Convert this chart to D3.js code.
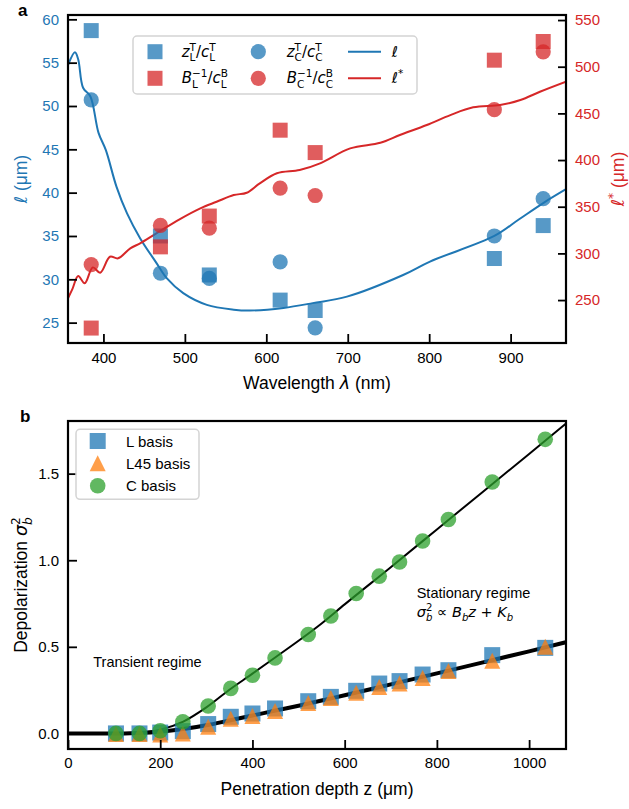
<html>
<head>
<meta charset="utf8">
<title> scattering lengths and depolarization </title>
<style>
body { margin:0; background-color:white; }
text { white-space: pre; }
</style>
<script src="https://d3js.org/d3.v7.min.js"></script>
</head>
<body>
<div id="svg"></div>
<script>

var width = 629;
var height = 809;
var sans = "Liberation Sans, Arial, sans-serif";
var mathFont = "DejaVu Sans, sans-serif";
var blue = "#1f77b4", red = "#d62728", green = "#2ca02c", orange = "#ff7f0e";
var sp = "\u00a0"; // non-breaking space so svg keeps it

// ---- panel a data ----
var wavelengths = [385, 470, 530, 617, 660, 880, 940];
var zL = [58.7, 35.0, 30.5, 27.6, 26.4, 32.4, 36.2];   // z_L^T / c_L^T (left axis)
var zC = [50.7, 30.7, 30.1, 32.0, 24.4, 35.0, 39.3];   // z_C^T / c_C^T (left axis)
var BL = [220, 307, 340, 432, 408, 507, 527];          // B_L^-1 / c_L^B (right axis)
var BC = [288, 330, 327, 370, 362, 454, 516];          // B_C^-1 / c_C^B (right axis)

var ellLambda = [356.5, 365, 369, 375, 384, 394, 403, 416, 429, 445, 465, 478, 498, 527, 560, 580, 621, 657, 699, 768, 801, 880, 910, 940, 968];
var ellValues = [54.7, 56.2, 55.4, 52.1, 51.1, 46.9, 44.9, 40.7, 37.6, 34.75, 31.9, 30.1, 28.4, 27.05, 26.5, 26.4, 26.7, 27.25, 28.0, 30.5, 32.05, 35.0, 36.9, 38.8, 40.4];

var starLambda = [356.5, 362, 369, 377, 387, 396, 408, 418, 433, 445, 465, 494, 519, 539, 560, 576, 592, 613, 641, 666, 703, 740, 764, 797, 826, 854, 887, 912, 936, 968];
var starValues = [252, 262, 275.7, 267.9, 285, 279.3, 296.4, 294.7, 305.4, 310.8, 321.5, 336.8, 348.3, 355.3, 362.5, 365, 375, 385.8, 389.3, 396.5, 412.5, 418.5, 426.8, 437.5, 448.2, 456.5, 459, 464.3, 473.2, 484];

var ticksLeft = [25, 30, 35, 40, 45, 50, 55, 60];
var ticksRight = [250, 300, 350, 400, 450, 500, 550];
var ticksLambda = [400, 500, 600, 700, 800, 900];

// ---- panel b data ----
var depth = [104, 155, 200, 249, 304, 353, 400, 449, 521, 570, 625, 675, 719, 769, 825, 920, 1035];
var sigmaL = [0.0, 0.0, 0.005, 0.013, 0.054, 0.096, 0.115, 0.144, 0.186, 0.211, 0.246, 0.288, 0.302, 0.34, 0.365, 0.452, 0.494];
var sigmaL45 = [-0.003, -0.003, -0.006, 0.0, 0.038, 0.085, 0.1, 0.13, 0.175, 0.205, 0.235, 0.268, 0.288, 0.32, 0.36, 0.42, 0.5];
var sigmaC = [0.0, 0.0, 0.015, 0.067, 0.158, 0.26, 0.336, 0.436, 0.571, 0.678, 0.808, 0.908, 0.99, 1.111, 1.235, 1.452, 1.698];

var fitZ = [0, 50, 100, 150, 200, 250, 300, 350, 400, 450, 500, 550, 600, 700, 800, 900, 1000, 1080];
var fitC = [0, 0, 0, 0.004, 0.022, 0.068, 0.15, 0.252, 0.345, 0.44, 0.535, 0.635, 0.745, 0.96, 1.178, 1.396, 1.614, 1.789];
var fitL = [0, 0, 0, 0.003, 0.01, 0.025, 0.047, 0.075, 0.103, 0.132, 0.16, 0.19, 0.22, 0.283, 0.347, 0.41, 0.474, 0.527];

var ticksSigma = [0.0, 0.5, 1.0, 1.5];
var ticksDepth = [0, 200, 400, 600, 800, 1000];

var canvas = d3.select("#svg").append("svg")
    .attr("width", width).attr("height", height)
    .style("font-family", sans);

// writes a small math expression: base glyphs with optional sub / superscripts
function mathText(g, x, y, parts, size, color) {
  var cx = x;
  parts.forEach(function(p) {
    var t = g.append("text").attr("x", cx).attr("y", y)
        .attr("font-size", size).attr("fill", color)
        .attr("font-family", p.plain ? sans : mathFont)
        .attr("font-style", p.it ? "italic" : "normal")
        .text(p.t);
    cx += t.node().getComputedTextLength();
    var w = 0;
    if (p.sup) {
      var s = g.append("text").attr("x", cx).attr("y", y - size * 0.4)
          .attr("font-size", size * 0.7).attr("fill", color)
          .attr("font-family", mathFont).attr("font-style", p.supIt ? "italic" : "normal")
          .text(p.sup);
      w = Math.max(w, s.node().getComputedTextLength());
    }
    if (p.sub) {
      var b = g.append("text").attr("x", cx).attr("y", y + size * 0.28)
          .attr("font-size", size * 0.7).attr("fill", color)
          .attr("font-family", mathFont).attr("font-style", p.subIt ? "italic" : "normal")
          .text(p.sub);
      w = Math.max(w, b.node().getComputedTextLength());
    }
    cx += w;
  });
  return cx - x;
}

// rotated label centred on (cx, cy), baseline vertical
function rotatedLabel(cx, cy, parts, size, color) {
  var g = canvas.append("g");
  var w = mathText(g, 0, 0, parts, size, color);
  g.attr("transform", "translate(" + cx + "," + cy + ") rotate(-90) translate(" + (-w / 2) + ",0)");
}

function centredLabel(cx, y, parts, size, color) {
  var g = canvas.append("g");
  var w = mathText(g, 0, 0, parts, size, color);
  g.attr("transform", "translate(" + (cx - w / 2) + "," + y + ")");
}

function styleAxis(g, color) {
  g.select(".domain").remove();
  g.selectAll(".tick line").attr("stroke", "black").attr("stroke-width", 1.8);
  g.selectAll(".tick text").attr("font-size", 15).attr("font-family", sans).attr("fill", color);
}

function square(g, x, y, s, color) {
  g.append("rect").attr("x", x - s / 2).attr("y", y - s / 2).attr("width", s).attr("height", s)
    .attr("fill", color).attr("fill-opacity", 0.75);
}
function circle(g, x, y, r, color) {
  g.append("circle").attr("cx", x).attr("cy", y).attr("r", r)
    .attr("fill", color).attr("fill-opacity", 0.75);
}
function triangle(g, x, y, s, color) {
  var h = s / 2;
  g.append("path").attr("d", "M" + x + "," + (y - h) + "L" + (x + h) + "," + (y + h) + "L" + (x - h) + "," + (y + h) + "Z")
    .attr("fill", color).attr("fill-opacity", 0.75);
}

// ================= panel a =================
var ax = { l: 68, r: 566, t: 15, b: 343 };
var xA = d3.scaleLinear().domain([356.5, 968]).range([ax.l, ax.r]);
var yL = d3.scaleLinear().domain([22.65, 60.5]).range([ax.b, ax.t]);
var yR = d3.scaleLinear().domain([204, 555.4]).range([ax.b, ax.t]);

canvas.append("clipPath").attr("id", "clipA").append("rect")
    .attr("x", ax.l).attr("y", ax.t).attr("width", ax.r - ax.l).attr("height", ax.b - ax.t);

var pa = canvas.append("g").attr("clip-path", "url(#clipA)");

var lineEll = d3.line().curve(d3.curveCatmullRom)
    .x(function(d, i) { return xA(ellLambda[i]); })
    .y(function(d) { return yL(d); });
var lineStar = d3.line().curve(d3.curveCatmullRom)
    .x(function(d, i) { return xA(starLambda[i]); })
    .y(function(d) { return yR(d); });

pa.append("path").attr("d", lineEll(ellValues)).attr("fill", "none").attr("stroke", blue).attr("stroke-width", 2);
pa.append("path").attr("d", lineStar(starValues)).attr("fill", "none").attr("stroke", red).attr("stroke-width", 2);

for (var i = 0; i < wavelengths.length; i++) square(pa, xA(wavelengths[i]), yL(zL[i]), 15, blue);
for (var i = 0; i < wavelengths.length; i++) circle(pa, xA(wavelengths[i]), yL(zC[i]), 7.6, blue);
for (var i = 0; i < wavelengths.length; i++) square(pa, xA(wavelengths[i]), yR(BL[i]), 15, red);
for (var i = 0; i < wavelengths.length; i++) circle(pa, xA(wavelengths[i]), yR(BC[i]), 7.6, red);

// axes (ticks point inwards)
var gxa = canvas.append("g").attr("transform", "translate(0," + ax.b + ")")
    .call(d3.axisBottom(xA).tickValues(ticksLambda).tickSize(-9).tickPadding(9.5));
styleAxis(gxa, "black");
var gyl = canvas.append("g").attr("transform", "translate(" + ax.l + ",0)")
    .call(d3.axisLeft(yL).tickValues(ticksLeft).tickSize(-9).tickPadding(9));
styleAxis(gyl, blue);
var gyr = canvas.append("g").attr("transform", "translate(" + ax.r + ",0)")
    .call(d3.axisRight(yR).tickValues(ticksRight).tickSize(-8).tickPadding(9));
styleAxis(gyr, red);

canvas.append("rect").attr("x", ax.l).attr("y", ax.t).attr("width", ax.r - ax.l).attr("height", ax.b - ax.t)
    .attr("fill", "none").attr("stroke", "black").attr("stroke-width", 2.2);

// legend a
var la = canvas.append("g");
la.append("rect").attr("x", 133).attr("y", 36).attr("width", 284).attr("height", 58).attr("rx", 4)
  .attr("fill", "white").attr("fill-opacity", 0.85).attr("stroke", "#d4d4d4").attr("stroke-width", 1.5);
var rowY = [51.7, 78.3];
square(la, 155, rowY[0], 15, blue);
square(la, 155, rowY[1], 15, red);
circle(la, 258.3, rowY[0], 7.6, blue);
circle(la, 258.3, rowY[1], 7.6, red);
la.append("line").attr("x1", 348).attr("x2", 381).attr("y1", rowY[0]).attr("y2", rowY[0]).attr("stroke", blue).attr("stroke-width", 2);
la.append("line").attr("x1", 348).attr("x2", 381).attr("y1", rowY[1]).attr("y2", rowY[1]).attr("stroke", red).attr("stroke-width", 2);
mathText(la, 181.7, rowY[0] + 5, [{t: "z", it: true, sub: "L", sup: "T"}, {t: "/"}, {t: "c", it: true, sub: "L", sup: "T"}], 15, "black");
mathText(la, 181.7, rowY[1] + 5, [{t: "B", it: true, sub: "L", sup: "\u22121"}, {t: "/"}, {t: "c", it: true, sub: "L", sup: "B"}], 15, "black");
mathText(la, 286.7, rowY[0] + 5, [{t: "z", it: true, sub: "C", sup: "T"}, {t: "/"}, {t: "c", it: true, sub: "C", sup: "T"}], 15, "black");
mathText(la, 286.7, rowY[1] + 5, [{t: "B", it: true, sub: "C", sup: "\u22121"}, {t: "/"}, {t: "c", it: true, sub: "C", sup: "B"}], 15, "black");
mathText(la, 391.7, rowY[0] + 5, [{t: "\u2113", it: true}], 15, "black");
mathText(la, 391.7, rowY[1] + 5, [{t: "\u2113", it: true, sup: "*"}], 15, "black");

// axis labels a
centredLabel(317, 389.3, [{t: "Wavelength" + sp, plain: true}, {t: "\u03bb", it: true}, {t: sp + "(nm)", plain: true}], 17.5, "black");
rotatedLabel(27, 179, [{t: "\u2113", it: true}, {t: sp + "(\u03bcm)", plain: true}], 17.5, blue);
rotatedLabel(624, 179, [{t: "\u2113", it: true, sup: "*"}, {t: sp + "(\u03bcm)", plain: true}], 17.5, red);

canvas.append("text").attr("x", 18).attr("y", 16).attr("font-size", 17).attr("font-weight", "bold").text("a");

// ================= panel b =================
var bx = { l: 68, r: 566, t: 421, b: 749 };
var xB = d3.scaleLinear().domain([0, 1080]).range([bx.l, bx.r]);
var yB = d3.scaleLinear().domain([-0.09, 1.804]).range([bx.b, bx.t]);

canvas.append("clipPath").attr("id", "clipB").append("rect")
    .attr("x", bx.l).attr("y", bx.t).attr("width", bx.r - bx.l).attr("height", bx.b - bx.t);
var pb = canvas.append("g").attr("clip-path", "url(#clipB)");

var lineFit = function(vals) {
  return d3.line().curve(d3.curveMonotoneX)
    .x(function(d, i) { return xB(fitZ[i]); })
    .y(function(d) { return yB(d); })(vals);
};
pb.append("path").attr("d", lineFit(fitL)).attr("fill", "none").attr("stroke", "black").attr("stroke-width", 4);
pb.append("path").attr("d", lineFit(fitC)).attr("fill", "none").attr("stroke", "black").attr("stroke-width", 2);

for (var i = 0; i < depth.length; i++) square(pb, xB(depth[i]), yB(sigmaL[i]), 16, blue);
for (var i = 0; i < depth.length; i++) triangle(pb, xB(depth[i]), yB(sigmaL45[i]), 16, orange);
for (var i = 0; i < depth.length; i++) circle(pb, xB(depth[i]), yB(sigmaC[i]), 7.8, green);

var gxb = canvas.append("g").attr("transform", "translate(0," + bx.b + ")")
    .call(d3.axisBottom(xB).tickValues(ticksDepth).tickSize(-9).tickPadding(8.5).tickFormat(d3.format("d")));
styleAxis(gxb, "black");
var gyb = canvas.append("g").attr("transform", "translate(" + bx.l + ",0)")
    .call(d3.axisLeft(yB).tickValues(ticksSigma).tickSize(-9).tickPadding(9).tickFormat(d3.format(".1f")));
styleAxis(gyb, "black");

canvas.append("rect").attr("x", bx.l).attr("y", bx.t).attr("width", bx.r - bx.l).attr("height", bx.b - bx.t)
    .attr("fill", "none").attr("stroke", "black").attr("stroke-width", 2.2);

// legend b
var lb = canvas.append("g");
lb.append("rect").attr("x", 76).attr("y", 429.3).attr("width", 123).attr("height", 70).attr("rx", 4)
  .attr("fill", "white").attr("fill-opacity", 0.85).attr("stroke", "#d4d4d4").attr("stroke-width", 1.5);
var legB = ["L basis", "L45 basis", "C basis"];
var rowB = [441, 463.3, 485.7];
square(lb, 97.7, rowB[0], 16, blue);
triangle(lb, 97.7, rowB[1], 16, orange);
circle(lb, 97.7, rowB[2], 7.8, green);
for (var i = 0; i < 3; i++) {
  lb.append("text").attr("x", 126).attr("y", rowB[i] + 5.5).attr("font-size", 15).text(legB[i]);
}

// annotations
canvas.append("text").attr("x", 93.3).attr("y", 666.5).attr("font-size", 14.5).text("Transient regime");
canvas.append("text").attr("x", 416.7).attr("y", 598).attr("font-size", 14.5).text("Stationary regime");
mathText(canvas.append("g"), 416.7, 616.5, [
  {t: "\u03c3", it: true, sub: "b", subIt: true, sup: "2"},
  {t: sp + "\u221d" + sp},
  {t: "B", it: true, sub: "b", subIt: true},
  {t: "z", it: true},
  {t: sp + "+" + sp},
  {t: "K", it: true, sub: "b", subIt: true}], 14.5, "black");

// axis labels b
centredLabel(317, 795, [{t: "Penetration depth z (\u03bcm)", plain: true}], 17.5, "black");
rotatedLabel(27, 585, [{t: "Depolarization" + sp, plain: true}, {t: "\u03c3", it: true, sub: "b", subIt: true, sup: "2"}], 17.5, "black");

canvas.append("text").attr("x", 20).attr("y", 422).attr("font-size", 17).attr("font-weight", "bold").text("b");

</script>
</body>
</html>
